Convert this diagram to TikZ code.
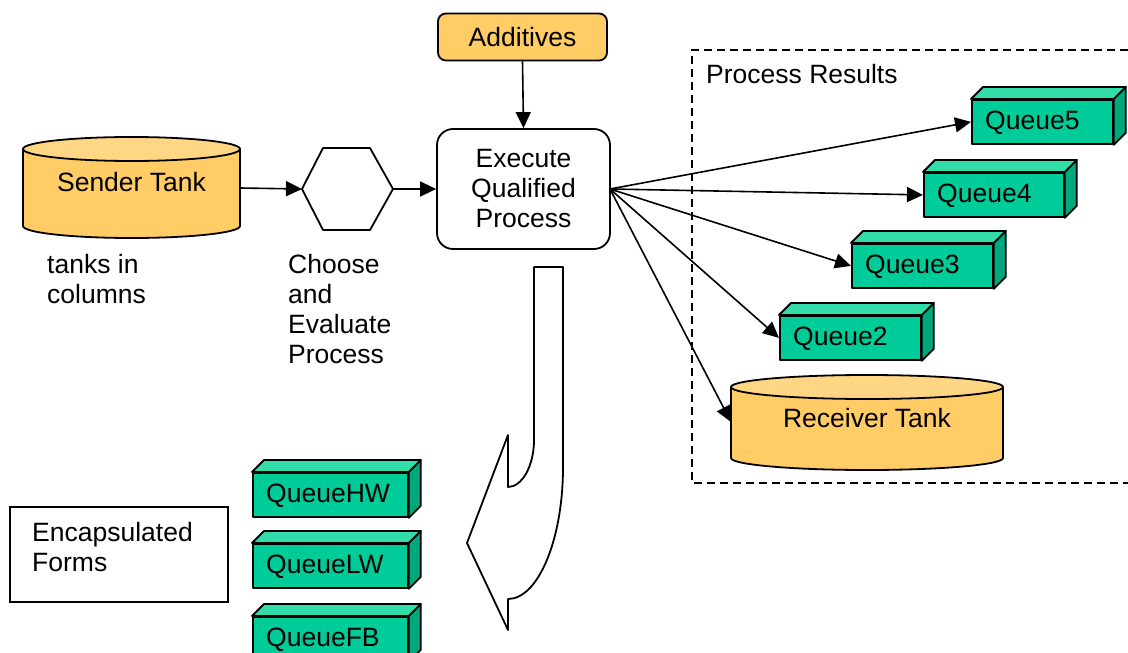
\documentclass[tikz,border=0pt]{standalone}
\usepackage{fontspec}
\setmainfont{Liberation Sans}
\usetikzlibrary{arrows.meta}
\definecolor{tankfill}{HTML}{FFCC66}
\definecolor{tanktop}{HTML}{FFD683}
\definecolor{qfrontc}{HTML}{00CC99}
\definecolor{qtopc}{HTML}{33DDAA}
\definecolor{qsidec}{HTML}{00A87E}
\tikzset{
  lbl/.style={font=\fontsize{26.5pt}{30pt}\selectfont, inner sep=0pt},
  shapeline/.style={draw=black, line width=1.8pt, line join=round},
  conn/.style={draw=black, line width=1.6pt, -{Triangle[length=16pt,width=15pt]}},
  qfront/.style={shapeline, fill=qfrontc, minimum height=44pt, inner sep=0pt},
  ghost/.style={inner sep=0pt, outer sep=0pt},
}
\newcommand\qbox[5]{%
  \node[qfront, minimum width=#4pt, anchor=north west] (#1) at (#2,#3) {};
  \draw[shapeline, fill=qtopc] (#1.north west) -- ++(12pt,12pt) -- ([shift={(12pt,12pt)}]#1.north east) -- (#1.north east) -- cycle;
  \draw[shapeline, fill=qsidec] (#1.north east) -- ++(12pt,12pt) -- ([shift={(12pt,12pt)}]#1.south east) -- (#1.south east) -- cycle;
  \node[lbl, anchor=west] at ([xshift=14pt,yshift=-1pt]#1.west) {#5};
}
\begin{document}
\begin{tikzpicture}[x=1pt, y=-1pt]
\useasboundingbox (0,0) rectangle (1128,653);

% dashed results frame
\draw[black, line width=1.6pt, dash pattern=on 8pt off 5pt] (1128,50) -- (692,50) -- (692,483) -- (1128,483);
\node[lbl, anchor=base west] (resultslbl) at (706,83) {Process Results};

% Sender tank
\draw[shapeline, fill=tankfill] (23,149) -- (23,226) arc[start angle=180, end angle=360, x radius=108.5pt, y radius=12pt] -- (240,149) -- cycle;
\draw[shapeline, fill=tanktop] (131.5,149) ellipse [x radius=108.5pt, y radius=12pt];
\node[ghost, minimum width=217pt, minimum height=101pt] (sender) at (131.5,188) {};
\node[lbl] (senderlbl) at (131.5,182) {Sender Tank};
\node[lbl, anchor=north west, align=left] (tankslbl) at (47,254) {tanks in\\columns};

% Hexagon
\draw[shapeline, fill=white] (302,189) -- (323,148) -- (370,148) -- (393,189) -- (370,230) -- (323,230) -- cycle;
\node[ghost, minimum width=91pt, minimum height=82pt] (hex) at (347.5,189) {};
\node[lbl, anchor=north west, align=left] (chooselbl) at (288,254) {Choose\\and\\Evaluate\\Process};

% Additives and Execute
\node[shapeline, fill=tankfill, rounded corners=8pt, minimum width=169pt, minimum height=47pt, lbl] (add) at (522.5,37) {Additives};
\node[shapeline, fill=white, rounded corners=16pt, minimum width=173pt, minimum height=120pt, lbl, align=center] (exec) at (523.5,189) {Execute\\Qualified\\Process};

% Receiver tank
\draw[shapeline, fill=tankfill] (731,387) -- (731,458) arc[start angle=180, end angle=360, x radius=136pt, y radius=12pt] -- (1003,387) -- cycle;
\draw[shapeline, fill=tanktop] (867,387) ellipse [x radius=136pt, y radius=12pt];
\node[ghost, minimum width=272pt, minimum height=95pt] (recv) at (867,422) {};
\node[lbl] (recvlbl) at (867,418) {Receiver Tank};

% Queues
\qbox{q5}{971}{99}{141}{Queue5}
\qbox{q4}{923}{172}{140}{Queue4}
\qbox{q3}{851}{243}{141}{Queue3}
\qbox{q2}{779}{315}{141}{Queue2}
\qbox{qhw}{252}{472}{155}{QueueHW}
\qbox{qlw}{252}{543}{155}{QueueLW}
\qbox{qfb}{252}{616}{155}{QueueFB}

% Encapsulated forms box
\node[draw=black, line width=1.6pt, minimum width=218pt, minimum height=95pt, inner sep=0pt] (encap) at (119,554.5) {};
\node[lbl, anchor=north west, align=left] (encaplbl) at (32,522) {Encapsulated\\Forms};

% big curved arrow
\draw[shapeline, fill=white] (534,267) -- (563,267) -- (563,467)
  .. controls (563,540) and (538,599) .. (508,599)
  -- (508,630) -- (467,543) -- (508,435) -- (508,487)
  .. controls (522,487) and (534,466) .. (534,440) -- cycle;

% connectors
\draw[conn] (sender.east) -- (hex.west);
\draw[conn] (hex.east) -- (exec.west);
\draw[conn] (add.south) -- (exec.north);
\coordinate (fan) at (610,189);
\draw[conn] (fan) -- (q5.west);
\draw[conn] (fan) -- (q4.west);
\draw[conn] (fan) -- (q3.west);
\draw[conn] (fan) -- (q2.west);
\draw[conn] (fan) -- (recv.west);
\end{tikzpicture}
\end{document}
